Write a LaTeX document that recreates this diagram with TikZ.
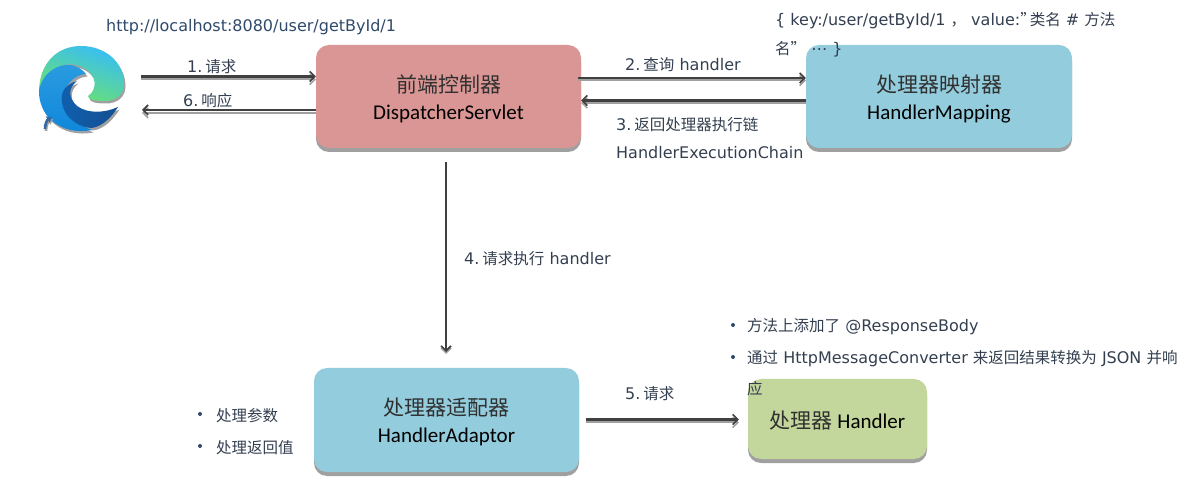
\documentclass[tikz,border=0pt]{standalone}
\usepackage{fontspec}
\setmainfont{DejaVu Sans}
\newfontfamily\cjk{Noto Sans CJK SC}
\newfontfamily\boxfont{Carlito}
\usetikzlibrary{arrows.meta}
\definecolor{lbl}{HTML}{333F50}
\definecolor{urlc}{HTML}{2F4A6B}
\definecolor{frontc}{HTML}{D99694}
\definecolor{bluec}{HTML}{93CDDD}
\definecolor{greenc}{HTML}{C3D69B}
\definecolor{arrowc}{HTML}{404040}
\definecolor{shadc}{HTML}{A0A0A0}
\definecolor{cjkbox}{HTML}{303030}
\definecolor{swirlA}{HTML}{38BDF5}
\definecolor{swirlB}{HTML}{6DE36B}
\definecolor{archA}{HTML}{2A9BE0}
\definecolor{archB}{HTML}{0E86DA}
\definecolor{waveA}{HTML}{1060AE}
\definecolor{waveB}{HTML}{134F92}
\tikzset{
  card/.style={draw=none,rounded corners=13pt,inner sep=0pt,align=center,text=black,
    font=\boxfont\fontsize{21}{27}\selectfont},
  cardshadow/.style={fill=shadc,rounded corners=13pt},
  label/.style={inner sep=0pt,anchor=west,yshift=-1pt,text=lbl,font=\fontsize{16}{20}\selectfont},
  urltext/.style={label,text=urlc},
  link/.style={draw=arrowc,line width=2.2pt,-{Straight Barb[length=5pt,width=10pt,line width=1.6pt]}},
  linkshadow/.style={draw=shadc,line width=2pt,-{Straight Barb[length=5pt,width=10pt,line width=1.6pt]}},
  dot/.style={circle,fill=urlc,inner sep=0pt,minimum size=4pt},
}
\newcommand{\Z}[1]{{\cjk\fontsize{15.5}{20}\selectfont #1}}
\newcommand{\T}[1]{{\cjk\fontsize{21}{27}\selectfont\color{cjkbox} #1}}
\newcommand{\D}[1]{\raisebox{-2pt}[\height][\depth]{#1}}
\newcommand{\N}{\hspace{3pt}}
\newcommand{\swirlpath}{(39,90) .. controls (40,62) and (58,46) .. (81,46) .. controls (105,46) and (124,62) .. (124,84) .. controls (124,95) and (115,101) .. (105,101) .. controls (96,101) and (88,100) .. (88,96) .. controls (97,90) and (98,76) .. (84,68) .. controls (70,60) and (48,64) .. (39,90) -- cycle}
\newcommand{\archpath}{(39,90) .. controls (43,72) and (58,64) .. (70,65) .. controls (78,66) and (83,70) .. (86,74) .. controls (74,74) and (62,88) .. (62,100) .. controls (64,115) and (78,125) .. (92,130) .. controls (60,136) and (38,115) .. (39,90) -- cycle}
\newcommand{\wavepath}{(77,81) .. controls (66,84) and (60,92) .. (62,102) .. controls (64,120) and (82,128) .. (92,128) .. controls (104,126) and (113,115) .. (118,107) .. controls (105,113) and (88,114) .. (77,106) .. controls (68,98) and (68,88) .. (77,81) -- cycle}
\begin{document}
\begin{tikzpicture}[x=1pt,y=-1pt]
\useasboundingbox (0,0) rectangle (1195,486);
% shadows of cards
\fill[cardshadow] (316,49) rectangle (581,152);
\fill[cardshadow] (806,49) rectangle (1072,152);
\fill[cardshadow] (314,372) rectangle (579,476);
\fill[cardshadow] (748,383) rectangle (927,463);
% cards
\node[card,fill=frontc,minimum width=265pt,minimum height=103pt] (front) at (448.5,96.5)
  {\D{\T{前端控制器}}\\[0pt]\D{DispatcherServlet}};
\node[card,fill=bluec,minimum width=266pt,minimum height=103pt] (mapping) at (939,96.5)
  {\D{\T{处理器映射器}}\\[0pt]\D{HandlerMapping}};
\node[card,fill=bluec,minimum width=265pt,minimum height=104pt] (adaptor) at (446.5,420)
  {\D{\T{处理器适配器}}\\[0pt]\D{HandlerAdaptor}};
\node[card,fill=greenc,minimum width=179pt,minimum height=80pt] (handler) at (837.5,419)
  {\D{\T{处理器} Handler}};
% browser icon
\node[inner sep=0pt,minimum width=88pt,minimum height=90pt] (browser) at (81,90) {};
\begin{scope}[shift={(1.5,2.5)}]
  \fill[shadc] \swirlpath;
  \fill[shadc] \archpath;
  \fill[shadc] \wavepath;
\end{scope}
\shade[left color=swirlA,right color=swirlB,shading angle=-20] \swirlpath;
\shade[top color=archA,bottom color=archB] \archpath;
\shade[left color=waveA,right color=waveB] \wavepath;
\draw[color=shadc,line width=2.6pt,-{Triangle[length=5pt,width=7pt]}] (46,131) .. controls (46,126) and (48,122) .. (53,119);
\draw[color=waveA!70!gray,line width=2.6pt,-{Triangle[length=5pt,width=7pt]}] (45,129) .. controls (45,124) and (47,120) .. (52,117);
% arrows
\draw[linkshadow] (141,79.5) -- (front.west |- 0,79.5);
\draw[link] (141,76.5) -- (front.west |- 0,76.5);
\draw[linkshadow] (front.west |- 0,113) -- (142,113);
\draw[link] (front.west |- 0,110) -- (142,110);
\draw[linkshadow] ([xshift=-3pt]front.east |- 0,80.5) -- (mapping.west |- 0,80.5);
\draw[link] ([xshift=-3pt]front.east |- 0,78) -- (mapping.west |- 0,78);
\draw[linkshadow] (mapping.west |- 0,103) -- (front.east |- 0,103);
\draw[link] (mapping.west |- 0,100.5) -- (front.east |- 0,100.5);
\draw[linkshadow] (446,162) -- (446,354);
\draw[link] (446,162) -- (446,352);
\draw[linkshadow] ([xshift=7pt]adaptor.east |- 0,422.5) -- ([xshift=-9pt]handler.west |- 0,422.5);
\draw[link] ([xshift=7pt]adaptor.east |- 0,419.5) -- ([xshift=-9pt]handler.west |- 0,419.5);
% labels
\node[urltext] (url) at (106,26) {http://localhost:8080/user/getById/1};
\node[label] (l1) at (187,66) {1.\N\Z{请求}};
\node[label] (l6) at (183,100) {6.\N\Z{响应}};
\node[label] (l2) at (625,64) {2.\N\Z{查询} handler};
\node[label] (l3) at (616,124) {3.\N\Z{返回处理器执行链}};
\node[label] (l3b) at (616,152) {HandlerExecutionChain};
\node[label] (l4) at (464,258) {4.\N\Z{请求执行} handler};
\node[label] (l5) at (625,393) {5.\N\Z{请求}};
\node[label] (k1) at (775,20) {\{ key:/user/getById/1 \Z{，} value:\Z{”}\hspace{-6pt}\Z{类名} \# \Z{方法}};
\node[label] (k2) at (775,48) {\Z{名”} ⋯ \}};
\node[dot] (d1) at (733,325) {};
\node[label] (b1) at (747,326) {\Z{方法上添加了} @ResponseBody};
\node[dot] (d2) at (733,357) {};
\node[label] (b2) at (747,358) {\Z{通过} HttpMessageConverter \Z{来返回结果转换为} JSON \Z{并响}};
\node[label] (b3) at (747,388) {\Z{应}};
\node[dot] (d3) at (200,414) {};
\node[label] (b4) at (216,415) {\Z{处理参数}};
\node[dot] (d4) at (200,446) {};
\node[label] (b5) at (216,447) {\Z{处理返回值}};
\end{tikzpicture}
\end{document}
